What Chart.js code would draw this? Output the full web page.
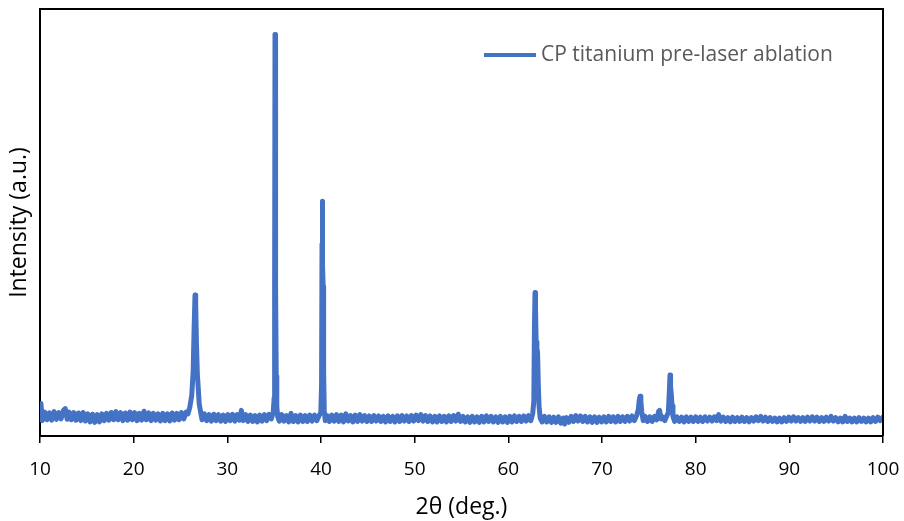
<!DOCTYPE html>
<html>
<head>
<meta charset="utf-8">
<script src="https://cdn.jsdelivr.net/npm/chart.js@4"></script>
<style>
  body { margin: 0; background: #fff; }
  canvas { display: block; }
</style>
</head>
<body>
<canvas id="xrdChart" width="904" height="521"></canvas>
<script>
const seriesLabel = 'CP titanium pre-laser ablation';
const xTicks = [10, 20, 30, 40, 50, 60, 70, 80, 90, 100];

// 2theta positions (deg.)
const twoTheta = [
  10.0, 10.1, 10.25, 10.5, 10.75, 11.0, 11.25, 11.5, 11.75, 12.0, 12.25, 12.5,
  12.7, 12.9, 13.1, 13.35, 13.6, 13.85, 14.1, 14.35, 14.6, 14.85, 15.1,
  15.35, 15.6, 15.85, 16.1, 16.35, 16.6, 16.85, 17.1, 17.35, 17.6, 17.85,
  18.1, 18.35, 18.6, 18.85, 19.1, 19.35, 19.6, 19.85, 20.1, 20.35, 20.6,
  20.85, 21.1, 21.35, 21.6, 21.85, 22.1, 22.35, 22.6, 22.85, 23.1, 23.35,
  23.6, 23.85, 24.1, 24.35, 24.6, 24.85, 25.1, 25.35, 25.6,
  25.8, 26.0, 26.2, 26.35, 26.45, 26.55, 26.62, 26.7, 26.8, 26.9, 27.0, 27.15, 27.3, 27.55, 27.8,
  28.05, 28.3, 28.55, 28.8, 29.05, 29.3, 29.55, 29.8, 30.05, 30.3, 30.55, 30.8,
  31.05, 31.3, 31.5, 31.7, 31.95, 32.2, 32.45, 32.7, 32.95, 33.2, 33.45, 33.7, 33.95, 34.2, 34.45, 34.7,
  34.9, 35.0, 35.05, 35.09, 35.13, 35.17, 35.22, 35.28, 35.38, 35.55,
  35.8, 36.05, 36.3, 36.55, 36.8, 37.05, 37.3, 37.55, 37.8, 38.05, 38.3, 38.55, 38.8, 39.05, 39.3, 39.55, 39.8,
  39.98, 40.06, 40.11, 40.14, 40.18, 40.23, 40.28, 40.35, 40.45,
  40.65, 40.9, 41.15, 41.4, 41.65, 41.9, 42.15, 42.4, 42.65, 42.9, 43.15, 43.4, 43.65, 43.9, 44.15, 44.4,
  44.65, 44.9, 45.15, 45.4, 45.65, 45.9, 46.15, 46.4, 46.65, 46.9, 47.15, 47.4, 47.65, 47.9, 48.15, 48.4, 48.65, 48.9, 49.15, 49.4, 49.65, 49.9,
  50.15, 50.4, 50.65, 50.9, 51.15, 51.4, 51.65, 51.9, 52.15, 52.4, 52.65, 52.9, 53.15, 53.4, 53.65, 53.9, 54.15, 54.4, 54.65, 54.9, 55.15, 55.4,
  55.65, 55.9, 56.15, 56.4, 56.65, 56.9, 57.15, 57.4, 57.65, 57.9, 58.15, 58.4, 58.65, 58.9, 59.15, 59.4, 59.65, 59.9, 60.15, 60.4, 60.65, 60.9,
  61.15, 61.4, 61.65, 61.9, 62.15, 62.4,
  62.6, 62.72, 62.79, 62.85, 62.9, 62.97, 63.05, 63.12, 63.2, 63.28, 63.4,
  63.6, 63.85, 64.1, 64.35, 64.6, 64.85, 65.1, 65.35, 65.6, 65.85, 66.0, 66.2, 66.45, 66.7, 66.95, 67.2, 67.45, 67.7, 67.95,
  68.2, 68.45, 68.7, 68.95, 69.2, 69.45, 69.7, 69.95, 70.2, 70.45, 70.7, 70.95, 71.2, 71.45, 71.7, 71.95, 72.2, 72.45, 72.7, 72.95, 73.2, 73.45, 73.7,
  73.88, 73.98, 74.06, 74.15, 74.25, 74.4, 74.6, 74.85, 75.1, 75.35, 75.6, 75.85, 76.05, 76.15, 76.3, 76.5, 76.7, 76.9, 77.08, 77.18, 77.26, 77.32, 77.4, 77.48, 77.58, 77.75,
  78.0, 78.25, 78.5, 78.75, 79.0, 79.25, 79.5, 79.75, 80.0, 80.25, 80.5, 80.75, 81.0, 81.25, 81.5, 81.75, 82.0, 82.25, 82.45, 82.7, 82.95,
  83.2, 83.45, 83.7, 83.95, 84.2, 84.45, 84.7, 84.95, 85.2, 85.45, 85.7, 85.95, 86.2, 86.45, 86.7, 86.95, 87.2, 87.45, 87.7, 87.95, 88.2, 88.45, 88.7,
  88.95, 89.2, 89.45, 89.7, 89.95, 90.2, 90.45, 90.7, 90.95, 91.2, 91.45, 91.7, 91.95, 92.2, 92.45, 92.7, 92.95, 93.2, 93.45, 93.7, 93.95, 94.2, 94.45,
  94.7, 94.95, 95.2, 95.45, 95.7, 95.95, 96.2, 96.45, 96.7, 96.95, 97.2, 97.45, 97.7, 97.95, 98.2, 98.45, 98.7, 98.95, 99.2, 99.45, 99.7, 100.0
];

// intensity (a.u.), same order as twoTheta
const intensity = [
  5.5, 7.6, 3.6, 5.6, 3.8, 5.4, 3.7, 5.7, 3.9, 5.5, 4.0, 6.0,
  6.4, 3.9, 5.6, 3.8, 5.5, 3.7, 5.4, 3.6, 5.5, 3.5, 5.2,
  3.3, 5.1, 3.2, 5.0, 3.3, 5.2, 3.6, 5.3, 3.7, 5.5, 3.8,
  5.7, 3.8, 5.5, 3.6, 5.4, 3.7, 5.6, 3.8, 5.5, 3.6, 5.3,
  3.7, 5.8, 3.8, 5.4, 3.6, 5.3, 3.7, 5.2, 3.5, 5.3, 3.6,
  5.2, 3.5, 5.4, 3.7, 5.3, 3.8, 5.5, 4.0, 5.6,
  5.2, 6.8, 9.5, 15, 25, 33, 31, 22, 14.5, 11, 7.5, 5.6, 3.8, 5.2, 3.6,
  5.0, 3.5, 5.1, 3.6, 5.0, 3.5, 4.9, 3.4, 5.0, 3.6, 5.1, 3.5,
  5.0, 3.7, 6.0, 3.6, 5.0, 3.4, 4.9, 3.4, 4.8, 3.3, 4.9, 3.5, 5.0, 3.6, 5.1, 4.0,
  5.6, 9, 35, 94.0, 60, 35, 14, 7, 4.5, 3.5,
  5.0, 3.5, 4.8, 3.3, 5.3, 3.4, 4.8, 3.3, 4.9, 3.4, 4.8, 3.4, 4.9, 3.5, 4.9, 3.6, 4.8,
  5.5, 12, 45, 55, 40, 35, 15, 6, 3.6,
  4.8, 3.4, 4.9, 3.5, 5.0, 3.4, 4.9, 3.3, 5.2, 3.5, 4.8, 3.3, 4.9, 3.4, 5.0, 3.5,
  4.8, 3.4, 4.7, 3.4, 4.8, 3.5, 4.7, 3.4, 4.6, 3.3, 4.7, 3.4, 4.6, 3.3, 4.7, 3.4, 4.8, 3.5, 4.7, 3.4, 4.8, 3.5,
  4.9, 3.6, 5.0, 3.5, 4.8, 3.4, 4.7, 3.3, 4.6, 3.3, 4.7, 3.4, 4.6, 3.3, 4.7, 3.4, 4.8, 3.5, 5.1, 3.4, 4.6, 3.3,
  4.5, 3.2, 4.6, 3.3, 4.5, 3.2, 4.6, 3.3, 4.7, 3.4, 4.6, 3.3, 4.5, 3.2, 4.6, 3.3, 4.5, 3.2, 4.6, 3.3, 4.7, 3.4,
  4.6, 3.4, 4.7, 3.5, 4.8, 3.6,
  5.2, 8, 26, 33.6, 30, 22, 20.5, 19.5, 12, 7, 4.2,
  3.3, 4.6, 3.3, 4.5, 3.2, 4.4, 3.2, 4.5, 3.0, 4.2, 2.8, 4.3, 3.2, 4.6, 3.4, 4.8, 3.5, 4.7, 3.4,
  4.6, 3.3, 4.5, 3.2, 4.5, 3.2, 4.4, 3.3, 4.5, 3.3, 4.6, 3.4, 4.5, 3.3, 4.6, 3.4, 4.5, 3.4, 4.6, 3.5, 4.7, 3.6, 4.8,
  6.2, 8.5, 9.3, 8.0, 5.6, 3.6, 4.6, 3.4, 4.5, 3.4, 4.6, 3.8, 5.8, 6.0, 4.0, 4.4, 3.6, 4.6, 5.5, 10, 14.3, 11.5, 9.8, 7, 4.5, 3.4,
  4.5, 3.4, 4.4, 3.3, 4.5, 3.4, 4.4, 3.4, 4.5, 3.4, 4.4, 3.4, 4.5, 3.5, 4.4, 3.5, 4.5, 3.6, 5.0, 3.5, 4.4,
  3.4, 4.3, 3.3, 4.4, 3.4, 4.3, 3.4, 4.4, 3.4, 4.3, 3.3, 4.3, 3.5, 4.5, 3.6, 4.6, 3.5, 4.4, 3.4, 4.3, 3.4, 4.2, 3.3,
  4.2, 3.3, 4.3, 3.4, 4.4, 3.5, 4.5, 3.5, 4.3, 3.4, 4.3, 3.4, 4.4, 3.5, 4.5, 3.5, 4.4, 3.4, 4.3, 3.4, 4.4, 3.5, 4.6,
  3.5, 4.3, 3.3, 4.2, 3.3, 4.6, 3.4, 4.2, 3.3, 4.2, 3.3, 4.3, 3.4, 4.2, 3.3, 4.2, 3.3, 4.3, 3.4, 4.4, 3.6, 4.4
];

if (twoTheta.length !== intensity.length) {
  console.error('length mismatch', twoTheta.length, intensity.length);
}

const lineColor = '#4472C4';
const fontFamily = '"Open Sans", Lato, sans-serif';

// frame on top/right plus legend inside the plot, like the Excel original
const framePlugin = {
  id: 'frameAndLegend',
  afterDraw(chart) {
    const { ctx, chartArea } = chart;
    ctx.save();
    ctx.strokeStyle = '#000';
    ctx.lineWidth = 2;
    ctx.beginPath();
    ctx.moveTo(chartArea.left, chartArea.top);
    ctx.lineTo(chartArea.right, chartArea.top);
    ctx.lineTo(chartArea.right, chartArea.bottom);
    ctx.stroke();

    const ds = chart.data.datasets[0];
    ctx.font = '21px ' + fontFamily;
    ctx.fillStyle = '#595959';
    ctx.textBaseline = 'middle';
    ctx.textAlign = 'left';
    const textLeft = chartArea.left + 501;
    const y = chartArea.top + 46;
    ctx.fillText(ds.label, textLeft, y);
    ctx.strokeStyle = ds.borderColor;
    ctx.lineWidth = 4;
    ctx.beginPath();
    ctx.moveTo(textLeft - 57, y);
    ctx.lineTo(textLeft - 5, y);
    ctx.stroke();
    ctx.restore();
  }
};

const ctx = document.getElementById('xrdChart').getContext('2d');
const chart = new Chart(ctx, {
  type: 'line',
  data: {
    datasets: [{
      label: seriesLabel,
      data: twoTheta.map((t, i) => ({ x: t, y: intensity[i] })),
      borderColor: lineColor,
      backgroundColor: lineColor,
      borderWidth: 5,
      borderJoinStyle: 'round',
      borderCapStyle: 'round',
      pointRadius: 0,
      tension: 0,
      fill: false
    }]
  },
  options: {
    responsive: false,
    animation: false,
    layout: { padding: { top: 9, right: 21, left: 0, bottom: 0 } },
    plugins: {
      legend: { display: false },
      tooltip: { enabled: false }
    },
    scales: {
      x: {
        type: 'linear',
        min: 10,
        max: 100,
        afterBuildTicks: (scale) => { scale.ticks = xTicks.map(v => ({ value: v })); },
        afterFit: (scale) => { scale.height = 85; scale.paddingLeft = 0; scale.paddingRight = 0; },
        ticks: {
          color: '#000',
          font: { family: fontFamily, size: 19 },
          padding: 15,
          maxRotation: 0
        },
        grid: {
          display: true,
          drawOnChartArea: false,
          drawTicks: true,
          tickLength: 7,
          color: '#000',
          lineWidth: 1.5
        },
        border: { display: true, color: '#000', width: 2 },
        title: {
          display: true,
          text: '2θ (deg.)',
          color: '#000',
          font: { family: fontFamily, size: 23 },
          padding: { top: 0, bottom: 0 }
        }
      },
      y: {
        min: 0,
        max: 100,
        afterFit: (scale) => { scale.width = 40; },
        ticks: { display: false },
        grid: { display: false },
        border: { display: true, color: '#000', width: 2 },
        title: {
          display: true,
          text: 'Intensity (a.u.)',
          color: '#000',
          font: { family: fontFamily, size: 23 },
          padding: { top: 6, bottom: 0 }
        }
      }
    }
  },
  plugins: [framePlugin]
});
</script>
</body>
</html>
